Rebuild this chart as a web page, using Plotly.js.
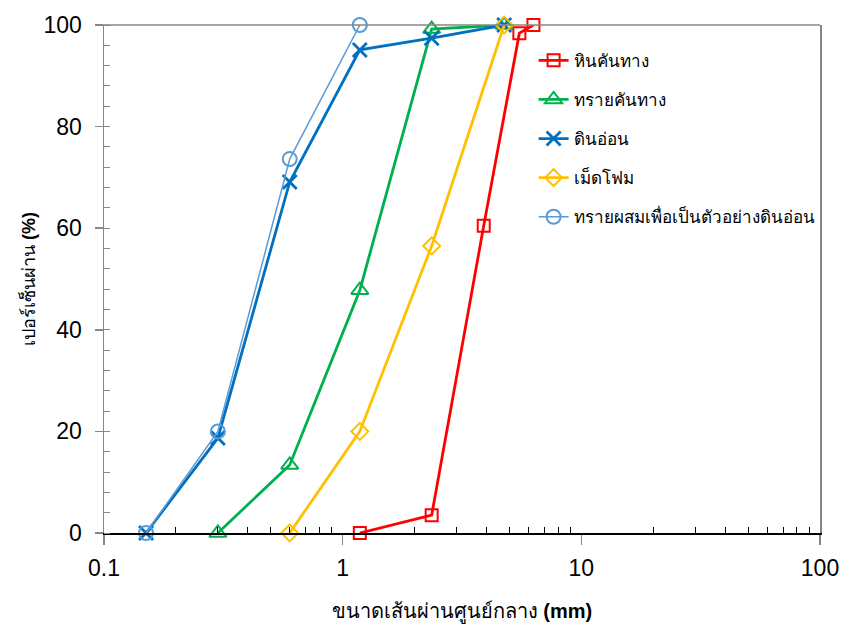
<!DOCTYPE html>
<html>
<head>
<meta charset="utf-8">
<script src="https://cdn.plot.ly/plotly-3.0.1.min.js"></script>
<style>html,body{margin:0;padding:0;background:#fff;}#chart{width:843px;height:628px;}</style>
</head>
<body>
<div id="chart"></div>
<script>
// Data
const seriesNames = ["หินคันทาง", "ทรายคันทาง", "ดินอ่อน", "เม็ดโฟม", "ทรายผสมเพื่อเป็นตัวอย่างดินอ่อน"];
const rockX = [1.18, 2.36, 3.9, 5.5, 6.3];
const rockY = [0, 3.5, 60.5, 98.4, 100];
const sandX = [0.3, 0.6, 1.18, 2.36, 4.75];
const sandY = [0, 13.4, 47.8, 99.2, 100];
const softX = [0.15, 0.3, 0.6, 1.18, 2.36, 4.75];
const softY = [0, 18.7, 69.1, 95.1, 97.4, 100];
const foamX = [0.6, 1.18, 2.36, 4.75];
const foamY = [0, 20, 56.5, 100];
const mixX = [0.15, 0.3, 0.6, 1.18];
const mixY = [0, 20, 73.6, 100];
const xTickVals = [0.1, 1, 10, 100];
const xTickText = ["0.1", "1", "10", "100"];
const yTickVals = [0, 20, 40, 60, 80, 100];

const colors = ["#FF0000", "#00B050", "#0070C0", "#FFC000", "#5B9BD5"];
const symbols = ["square-open", "triangle-up-open", "x-thin-open", "diamond-open", "circle-open"];
const widths = [2.8, 2.8, 2.8, 2.8, 1.5];
const sizes = [12, 15, 14, 13, 14];
const xs = [rockX, sandX, softX, foamX, mixX];
const ys = [rockY, sandY, softY, foamY, mixY];

const traces = seriesNames.map((n, i) => ({
  x: xs[i], y: ys[i], name: n, type: "scatter", mode: "lines+markers",
  legendgroup: "g" + i, cliponaxis: false,
  line: {color: colors[i], width: widths[i]},
  marker: {symbol: symbols[i], size: sizes[i], color: colors[i],
           line: {color: colors[i], width: i === 2 ? 2.8 : 2}}
}));

const minorX = [];
[0.1, 1, 10].forEach(d => { for (let k = 2; k <= 9; k++) minorX.push(+(d * k).toPrecision(3)); });

const fontMain = "Liberation Sans, Arial, Noto Sans, sans-serif";
const layout = {
  width: 843, height: 628,
  margin: {l: 104, r: 23, t: 25, b: 95},
  paper_bgcolor: "#fff", plot_bgcolor: "#fff",
  showlegend: true,
  legend: {x: 0.6, y: 0.965, xanchor: "left", yanchor: "top",
           font: {family: fontMain, size: 17, color: "#000"},
           tracegroupgap: 14, traceorder: "grouped", bgcolor: "rgba(0,0,0,0)"},
  xaxis: {
    type: "log", range: [-1, 2],
    tickmode: "array", tickvals: xTickVals, ticktext: xTickText,
    ticks: "outside", ticklen: 10, tickcolor: "#868686", tickwidth: 1.5,
    showline: true, linecolor: "#000", linewidth: 1.5,
    showgrid: false, zeroline: false, ticklabelstandoff: 4,
    tickfont: {family: fontMain, size: 23, color: "#000"},
    minor: {tickmode: "array", tickvals: minorX, ticks: "inside", ticklen: 6, tickcolor: "#000", tickwidth: 1, showgrid: false},
    title: {text: "ขนาดเส้นผ่านศูนย์กลาง <b>(mm)</b>", font: {family: fontMain, size: 20, color: "#000"}, standoff: 24}
  },
  yaxis: {
    range: [0, 100], tickmode: "array", tickvals: yTickVals,
    ticks: "outside", ticklen: 8, tickcolor: "#868686", tickwidth: 1.5,
    showline: true, mirror: true, linecolor: "#868686", linewidth: 1.5,
    showgrid: false, zeroline: false, ticklabelstandoff: 8,
    tickfont: {family: fontMain, size: 23, color: "#000"},
    minor: {dtick: 4, ticks: "inside", ticklen: 6, tickcolor: "#868686", tickwidth: 1, showgrid: false},
    title: {text: "เปอร์เซ็นผ่าน <b>(%)</b>", font: {family: fontMain, size: 18, color: "#000"}, standoff: 3}
  },
  shapes: [{type: "line", xref: "paper", yref: "paper", x0: -0.011, x1: 1, y0: 1, y1: 1,
            line: {color: "#868686", width: 1.5}}]
};
Plotly.newPlot("chart", traces, layout, {displayModeBar: false, staticPlot: true});
</script>
</body>
</html>
